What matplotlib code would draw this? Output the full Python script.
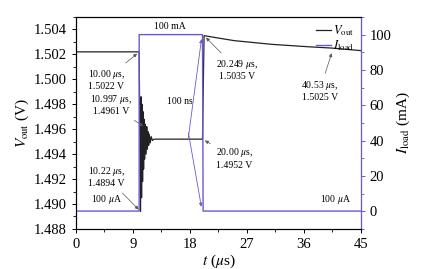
import matplotlib
matplotlib.use('Agg')
import matplotlib.pyplot as plt
from matplotlib.ticker import MultipleLocator

plt.rcParams['font.family'] = ['Liberation Serif', 'DejaVu Serif']
plt.rcParams['mathtext.fontset'] = 'stix'

# Output voltage (us, V)
t_vout = [0.0, 10.00, 10.22, 10.30, 10.38, 10.46, 10.54, 10.62, 10.70, 10.78,
          10.86, 10.94, 10.997, 11.10, 11.20, 11.30, 11.40, 11.50, 11.60,
          11.75, 11.90, 12.10, 12.40, 20.00, 20.249, 22.0, 25.0, 28.0, 31.0,
          34.0, 37.0, 40.53, 45.0]
vout = [1.5022, 1.5022, 1.4894, 1.4986, 1.4905, 1.4980, 1.4918, 1.4974, 1.4928,
        1.4968, 1.4936, 1.4964, 1.4961, 1.4940, 1.4962, 1.4944, 1.4958, 1.4947,
        1.4956, 1.4949, 1.4954, 1.4951, 1.4952, 1.4952, 1.5035, 1.50335,
        1.5031, 1.50295, 1.5028, 1.5027, 1.5026, 1.5025, 1.5023]

# Load current (us, mA)
t_iload = [0.0, 10.0, 10.0, 20.0, 20.1, 45.0]
iload = [0.1, 0.1, 100.0, 100.0, 0.1, 0.1]

PURPLE = '#6a5ad2'

fig = plt.figure(figsize=(4.26, 2.69), dpi=100)
ax = fig.add_axes([0.178, 0.149, 0.669, 0.788])
ax2 = ax.twinx()

l1, = ax.plot(t_vout, vout, color='#222222', lw=0.9, label=r'$V_{\rm out}$')
l2, = ax2.plot(t_iload, iload, color=PURPLE, lw=1.0, label=r'$I_{\rm load}$')

ax.set_xlim(0, 45)
ax.set_ylim(1.488, 1.505)
ax2.set_ylim(-10, 110)

ax.xaxis.set_major_locator(MultipleLocator(9))
ax.xaxis.set_minor_locator(MultipleLocator(4.5))
ax.yaxis.set_major_locator(MultipleLocator(0.002))
ax.yaxis.set_minor_locator(MultipleLocator(0.001))
ax.yaxis.set_major_formatter(matplotlib.ticker.FormatStrFormatter('%.3f'))
ax2.yaxis.set_major_locator(MultipleLocator(20))
ax2.yaxis.set_minor_locator(MultipleLocator(10))

for a in (ax, ax2):
    a.tick_params(which='major', length=3, labelsize=10.5, width=0.7)
    a.tick_params(which='minor', length=2, width=0.6)
ax2.spines['right'].set_color(PURPLE)
ax2.tick_params(axis='y', which='both', color=PURPLE)

ax.set_xlabel(r'$t$ ($\mu$s)', fontsize=11, labelpad=1)
ax.set_ylabel(r'$V_{\rm out}$ (V)', fontsize=11, labelpad=2)
ax2.set_ylabel(r'$I_{\rm load}$ (mA)', fontsize=11, labelpad=2)

fs = 7
arrow = dict(arrowstyle='-|>', color='#555555', lw=0.5, mutation_scale=5)
parrow = dict(arrowstyle='-|>', color=PURPLE, lw=0.6, mutation_scale=5)

ax.annotate('10.00 $\\mu$s,\n1.5022 V', xy=(10.0, 1.5022), xytext=(4.8, 1.5000),
            fontsize=fs, ha='center', va='center', arrowprops=arrow)
ax.annotate('10.997 $\\mu$s,\n1.4961 V', xy=(11.0, 1.4961), xytext=(5.6, 1.4980),
            fontsize=fs, ha='center', va='center', arrowprops=arrow)
ax.annotate('10.22 $\\mu$s,\n1.4894 V', xy=(10.22, 1.4894), xytext=(4.8, 1.4922),
            fontsize=fs, ha='center', va='center', arrowprops=arrow)
ax.annotate('20.249 $\\mu$s,\n1.5035 V', xy=(20.249, 1.5035), xytext=(25.5, 1.5008),
            fontsize=fs, ha='center', va='center', arrowprops=arrow)
ax.annotate('20.00 $\\mu$s,\n1.4952 V', xy=(20.0, 1.4952), xytext=(25.0, 1.4937),
            fontsize=fs, ha='center', va='center', arrowprops=arrow)
ax.annotate('40.53 $\\mu$s,\n1.5025 V', xy=(40.53, 1.5023), xytext=(38.5, 1.4991),
            fontsize=fs, ha='center', va='center', arrowprops=arrow)

ax2.text(4.8, 3, '100 $\\mu$A', fontsize=fs, ha='center', va='bottom')
ax2.text(41.0, 3, '100 $\\mu$A', fontsize=fs, ha='center', va='bottom')
ax2.text(14.8, 102, '100 mA', fontsize=fs, ha='center', va='bottom')
ax2.text(16.4, 62, '100 ns', fontsize=fs, ha='center', va='center')
ax2.annotate('', xy=(19.9, 99), xytext=(17.7, 40), arrowprops=parrow)
ax2.annotate('', xy=(19.9, 1), xytext=(17.7, 46), arrowprops=parrow)

ax2.legend([l1, l2], [l1.get_label(), l2.get_label()], loc='upper right',
           frameon=False, fontsize=9, handlelength=1.2, handletextpad=0.2,
           labelspacing=0.0, borderaxespad=0.1)

fig.savefig('out.png', dpi=100)
